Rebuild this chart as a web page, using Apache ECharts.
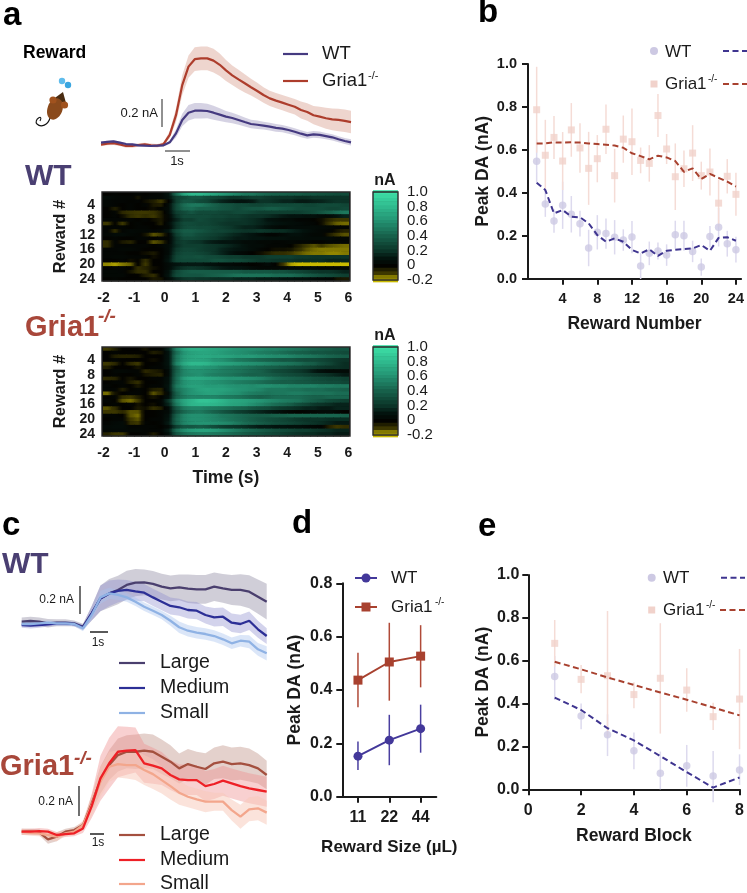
<!DOCTYPE html>
<html><head><meta charset="utf-8">
<style>html,body{margin:0;padding:0;background:#fff}#c{width:747px;height:893px}</style>
<script src="https://cdn.jsdelivr.net/npm/echarts@6/dist/echarts.min.js"></script>
</head><body><div id="c"></div>
<script>
// ---------- panel a traces (nA, one value per 0.25 s from -2.5 s)
const aWtMean=[.024,.03,.033,.024,.014,.012,.005,.002,0,.002,.005,.026,.09,.186,.238,.252,.252,.25,.238,.224,.21,.2,.186,.171,.157,.152,.145,.138,.129,.124,.114,.102,.088,.076,.083,.079,.071,.062,.048,.036,.026];
const aWtSem=[.008,.008,.008,.008,.008,.008,.008,.008,.008,.008,.008,.012,.03,.045,.055,.055,.055,.052,.05,.045,.04,.038,.035,.032,.03,.03,.028,.028,.028,.026,.026,.025,.025,.024,.024,.024,.022,.022,.022,.022,.022];
const aGriaMean=[.01,.017,.02,.012,0,0,.007,.012,.005,.002,.014,.08,.22,.435,.567,.62,.626,.626,.61,.58,.54,.505,.476,.448,.42,.393,.364,.34,.324,.31,.295,.28,.257,.243,.22,.21,.198,.19,.186,.18,.171];
const aGriaSem=[.012,.012,.012,.012,.012,.012,.012,.012,.012,.012,.012,.025,.05,.07,.08,.085,.085,.085,.085,.08,.075,.07,.068,.065,.06,.058,.055,.055,.055,.055,.055,.055,.06,.062,.065,.07,.075,.078,.08,.08,.08];

// ---------- panel a heat maps: 24 rewards x 32 bins of 0.25 s from -2 s
const heatWt=[
[0,.02,0,0,.02,0,.02,.03,.1,.45,.7,.8,.8,.75,.7,.65,.6,.55,.5,.5,.45,.42,.4,.4,.38,.38,.35,.35,.33,.32,.3,.3],
[.05,.03,.02,.02,-.03,.02,.03,.03,.08,.25,.3,.35,.35,.3,.28,.25,.2,.2,.22,.25,.25,.22,.2,.2,.2,.18,.18,.2,.2,.2,.2,.2],
[.03,.02,.02,.01,.02,-.02,-.05,-.1,0,.25,.35,.35,.3,.28,.2,.15,.12,.1,.1,.12,.2,.2,.18,.15,.15,.12,.12,.14,.15,.18,.2,.2],
[.03,.02,0,.02,0,.02,-.04,-.05,.05,.3,.45,.5,.5,.45,.4,.35,.33,.3,.3,.28,.28,.3,.3,.3,.3,.3,.28,.28,.3,.3,.3,.28],
[0,-.05,0,.02,0,0,-.02,.01,.05,.3,.42,.45,.4,.4,.38,.35,.33,.3,.33,.35,.35,.38,.38,.35,.33,.3,.3,.3,.3,.28,.28,.3],
[0,.02,-.07,-.09,-.1,-.1,-.09,-.05,.05,.25,.3,.35,.3,.3,.3,.28,.28,.3,.3,.28,.25,.25,.25,.25,.25,.25,.28,.3,.35,.4,.45,.5],
[0,.02,-.02,-.08,-.1,-.08,-.1,-.05,.03,.2,.3,.3,.3,.3,.28,.28,.25,.25,.22,.2,.2,.18,.15,.12,.1,.1,.08,.08,.05,.05,.1,.15],
[.02,.02,.02,.02,0,.02,-.02,-.04,.02,.15,.25,.25,.3,.28,.25,.25,.22,.22,.2,.18,.15,.1,.08,.05,.05,.02,.02,0,-.02,-.07,-.1,-.1],
[-.1,0,-.1,0,.02,0,0,-.05,.05,.2,.3,.3,.28,.28,.25,.22,.2,.2,.2,.18,.15,.12,.1,.08,.06,.05,.03,.02,-.02,-.1,-.13,-.14],
[.02,.02,.02,0,.02,.02,0,.01,.03,.2,.3,.32,.3,.3,.28,.25,.22,.18,.15,.15,.12,.08,.05,.03,.05,.05,.05,.05,.04,.03,.02,.02],
[.02,-.08,.02,.04,.03,.03,.02,.03,.1,.3,.38,.38,.35,.32,.28,.28,.25,.22,.2,.2,.22,.2,.18,.18,.15,.12,.08,.05,.03,.02,-.03,-.06],
[.03,.05,.05,.03,.02,-.03,-.12,-.1,.02,.25,.35,.35,.3,.28,.25,.22,.18,.15,.12,.1,.05,.02,.02,.05,.08,.08,.05,.03,.03,-.05,-.1,-.12],
[0,.02,0,0,.02,.02,0,.02,.02,.2,.3,.3,.28,.25,.22,.18,.15,.12,.12,.1,.1,.08,.08,.08,.06,.06,.05,.05,.05,.05,.03,.03],
[-.08,.02,-.04,-.06,0,0,-.12,-.1,.02,.2,.25,.22,.2,.15,.12,.1,.1,.08,.05,.05,.03,.03,.02,.02,.03,.02,.02,0,0,.02,.02,.02],
[-.08,.02,.02,.02,.02,.02,0,.02,.05,.18,.25,.25,.25,.22,.2,.18,.15,.12,.08,.05,.05,.02,.02,.02,0,-.05,-.1,-.12,-.1,-.12,-.13,-.14],
[.02,.02,.03,.03,.02,0,0,0,.05,.22,.28,.28,.25,.22,.2,.15,.12,.1,.08,.05,.02,0,-.02,-.02,-.03,-.08,-.12,-.14,-.15,-.15,-.15,-.15],
[.02,.02,.02,0,0,-.02,-.04,0,.05,.25,.3,.3,.28,.25,.2,.15,.1,.05,.03,0,-.02,-.05,-.08,-.08,-.1,-.12,-.14,-.15,-.15,-.16,-.16,-.15],
[.02,.03,.03,.02,.02,.02,-.02,0,.08,.28,.32,.32,.33,.3,.3,.28,.25,.25,.22,.22,.22,.25,.25,.25,.25,.22,.22,.2,.2,.2,.2,.2],
[0,0,.02,-.02,0,-.08,0,0,.1,.28,.3,.3,.3,.3,.33,.33,.3,.3,.28,.25,.22,.22,.2,.2,.2,.18,.18,.18,.18,.15,.15,.15],
[-.16,-.18,-.15,-.13,0,-.1,0,0,.05,.1,.12,.12,.12,.1,.08,.05,.05,.03,.02,0,.02,.05,0,-.1,-.18,-.2,-.2,-.2,-.2,-.2,-.2,-.2],
[0,.02,.02,0,-.08,-.06,-.02,0,.05,.15,.2,.22,.2,.18,.15,.12,.1,.1,.08,.05,.03,.03,.03,.03,.05,.05,.05,.05,.03,.03,.03,.03],
[.03,.03,.02,-.03,-.08,-.08,0,0,.08,.28,.35,.38,.38,.38,.38,.38,.38,.38,.35,.35,.35,.35,.33,.33,.3,.28,.25,.22,.2,.2,.18,.15],
[.03,.03,.03,0,0,-.05,-.08,0,.1,.3,.35,.35,.35,.38,.4,.42,.45,.48,.48,.48,.48,.48,.45,.45,.45,.42,.38,.35,.32,.3,.28,.25],
[0,.02,0,0,0,0,-.04,-.03,.05,.15,.2,.22,.2,.2,.18,.18,.18,.15,.15,.15,.12,.12,.12,.1,.1,.08,.08,.05,.03,.02,-.03,-.04]];
const heatGria=[
[-.1,-.05,0,0,0,-.03,.02,.02,.15,.55,.7,.75,.75,.72,.7,.68,.65,.62,.6,.6,.58,.55,.55,.52,.5,.48,.45,.42,.4,.38,.35,.35],
[0,.02,0,0,0,0,-.05,-.03,.1,.45,.62,.68,.7,.7,.68,.65,.62,.6,.58,.55,.52,.5,.48,.45,.42,.4,.38,.35,.35,.33,.32,.3],
[0,-.05,-.06,-.06,-.05,0,0,0,.1,.5,.65,.7,.72,.72,.7,.7,.68,.65,.65,.65,.62,.6,.58,.58,.55,.52,.5,.48,.45,.42,.4,.38],
[0,.02,0,0,0,0,-.02,0,.1,.5,.65,.7,.7,.68,.62,.6,.55,.5,.48,.45,.42,.4,.38,.35,.35,.32,.3,.3,.28,.25,.22,.2],
[-.1,-.07,0,-.07,-.1,0,0,.02,.1,.55,.72,.8,.8,.78,.72,.7,.68,.65,.62,.6,.58,.55,.52,.5,.48,.45,.4,.38,.32,.28,.22,.18],
[-.05,0,0,0,-.03,0,.02,.02,.08,.4,.6,.65,.65,.62,.6,.55,.52,.5,.48,.45,.42,.4,.38,.35,.32,.3,.28,.25,.22,.2,.2,.18],
[0,.03,.03,.02,.02,-.07,-.05,-.03,.05,.4,.55,.6,.6,.58,.55,.52,.5,.48,.45,.42,.4,.35,.3,.28,.25,.22,.18,.12,.08,.05,.05,.05],
[0,.02,0,0,.02,-.03,-.05,-.06,.05,.42,.55,.58,.6,.55,.52,.5,.48,.45,.42,.4,.4,.38,.35,.32,.3,.28,.25,.22,.2,.18,.15,.12],
[-.07,-.06,0,-.03,0,0,.02,.02,.08,.45,.65,.72,.72,.7,.68,.65,.62,.62,.6,.58,.55,.5,.45,.42,.4,.38,.35,.32,.3,.28,.28,.25],
[0,.02,.02,-.05,-.08,0,0,.02,.08,.45,.6,.65,.65,.62,.6,.58,.55,.52,.5,.48,.45,.42,.4,.38,.38,.36,.35,.33,.32,.3,.3,.28],
[.02,0,.02,0,-.04,0,.02,.02,.1,.5,.62,.68,.68,.65,.65,.65,.62,.6,.6,.58,.6,.6,.58,.58,.55,.55,.55,.55,.52,.52,.5,.5],
[.02,.02,-.05,0,.02,0,-.05,-.06,.1,.45,.55,.62,.68,.7,.68,.68,.65,.62,.6,.58,.55,.5,.5,.5,.48,.48,.45,.45,.45,.42,.42,.4],
[-.14,-.03,0,.02,.02,0,-.12,-.08,.05,.4,.55,.62,.65,.68,.68,.65,.62,.6,.55,.52,.5,.48,.5,.5,.52,.52,.5,.48,.48,.48,.45,.45],
[0,.02,-.08,-.1,-.05,0,-.03,0,.08,.4,.5,.55,.55,.55,.55,.52,.5,.48,.45,.42,.4,.42,.45,.45,.45,.45,.42,.4,.4,.42,.42,.42],
[.02,0,-.12,-.14,-.1,0,0,.02,.2,.55,.7,.78,.85,.85,.82,.78,.72,.7,.68,.65,.62,.58,.55,.52,.5,.48,.42,.38,.35,.3,.28,.25],
[0,.02,0,.02,-.03,0,-.02,.02,.15,.5,.68,.78,.8,.8,.78,.75,.7,.68,.65,.6,.55,.5,.45,.42,.38,.32,.28,.22,.2,.18,.15,.15],
[-.12,-.08,0,0,-.04,-.02,-.08,-.05,.05,.35,.5,.55,.55,.52,.5,.48,.45,.42,.4,.35,.32,.3,.25,.22,.2,.18,.15,.15,.12,.12,.15,.15],
[-.1,-.1,-.07,-.12,-.12,0,0,.02,.05,.3,.42,.48,.5,.45,.4,.35,.3,.25,.22,.18,.15,.12,.1,.05,.02,0,.02,.03,.05,.05,.02,0],
[.02,.02,0,-.12,-.14,0,0,.02,.08,.4,.55,.6,.6,.58,.55,.5,.48,.45,.42,.4,.38,.38,.4,.4,.42,.42,.42,.42,.42,.42,.42,.4],
[0,.02,.02,-.1,-.12,0,.02,.02,.1,.42,.55,.6,.6,.58,.55,.52,.48,.45,.42,.38,.35,.32,.3,.28,.25,.22,.2,.2,.2,.18,.18,.18],
[.02,.04,.05,-.08,-.1,.02,0,.02,.12,.42,.55,.6,.62,.62,.6,.58,.55,.5,.45,.42,.38,.35,.32,.3,.28,.25,.22,.2,.18,.15,.12,.12],
[.04,.05,.05,.02,.02,.02,.02,0,.05,.25,.35,.35,.38,.35,.3,.25,.22,.2,.18,.15,.12,.12,.1,.1,.08,.08,.05,.03,.02,-.06,-.1,-.08],
[.03,.04,.04,.03,.03,.02,.02,.02,.12,.45,.58,.65,.68,.68,.65,.6,.55,.5,.45,.42,.38,.35,.32,.3,.28,.25,.25,.22,.2,.18,.15,.15],
[-.06,-.1,-.1,0,0,.02,-.05,0,.08,.35,.45,.5,.52,.52,.5,.48,.45,.42,.38,.35,.33,.3,.28,.25,.22,.2,.18,.18,.15,.15,.12,.12]];
const heatTimeTicks=[-2,-1,0,1,2,3,4,5,6];
const rewardTicks=[4,8,12,16,20,24];
const colorLevels=[-.2,-.15,-.1,-.05,0,.05,.1,.15,.2,.25,.3,.35,.4,.45,.5,.55,.6,.65,.7,.75,.8,.85,.9,.95,1];
const colorTicks=[1,.8,.6,.4,.2,0,-.2];
const colorTickLabels=['1.0','0.8','0.6','0.4','0.2','0','-0.2'];
// colour stops every 0.1 nA from -0.2 to 1.0
const heatColors=['#c9ba00','#3c3700','#030300','#03130e','#0b3327','#114a39','#17604a','#1d785d','#239070','#29a57f','#2fb98d','#36cc9a','#3ddfa6'];

// ---------- panel b
const bRewards=[1,2,3,4,5,6,7,8,9,10,11,12,13,14,15,16,17,18,19,20,21,22,23,24];
const bWt=[.547,.348,.269,.342,.30,.256,.143,.216,.21,.193,.18,.194,.059,.118,.129,.11,.205,.20,.127,.054,.196,.24,.163,.135];
const bWtErr=[.1,.06,.055,.11,.085,.06,.085,.08,.07,.08,.05,.075,.06,.055,.04,.05,.065,.07,.05,.04,.05,.09,.06,.06];
const bWtFit=[.447,.413,.304,.32,.289,.286,.258,.203,.172,.188,.172,.134,.118,.137,.106,.13,.135,.138,.141,.157,.13,.19,.193,.177];
const bGria=[.787,.575,.658,.548,.693,.609,.514,.559,.696,.48,.65,.638,.551,.537,.76,.604,.475,.512,.585,.48,.497,.352,.477,.393];
const bGriaErr=[.2,.165,.1,.135,.125,.115,.17,.11,.115,.125,.11,.155,.06,.085,.1,.07,.155,.085,.13,.065,.11,.11,.08,.1];
const bGriaFit=[.63,.63,.635,.634,.635,.634,.63,.627,.624,.62,.61,.584,.571,.556,.573,.565,.548,.498,.514,.464,.488,.47,.452,.429];
const bXTicks=[4,8,12,16,20,24];

// ---------- panel c (nA, one value per 0.5 s from -3.5 s)
const cWtLarge=[.023,.028,.023,.012,.016,.016,.012,-.012,.082,.186,.221,.245,.28,.296,.298,.287,.268,.256,.263,.254,.249,.249,.268,.256,.245,.245,.233,.198,.163];
const cWtLargeSem=[.03,.03,.03,.03,.025,.025,.02,.02,.05,.09,.1,.1,.1,.095,.09,.09,.09,.09,.09,.1,.1,.1,.1,.1,.105,.11,.115,.12,.125];
const cWtMedium=[0,-.005,0,.005,.012,.012,.007,-.016,.082,.186,.221,.238,.245,.235,.226,.193,.163,.133,.124,.105,.1,.07,.054,.058,.016,.007,.03,-.03,-.077];
const cWtMediumSem=[.02,.02,.02,.015,.015,.015,.015,.02,.05,.09,.09,.08,.07,.065,.06,.06,.06,.06,.06,.06,.06,.06,.065,.065,.065,.065,.065,.06,.055];
const cWtSmall=[.007,.007,.012,.016,.012,.012,.007,-.023,.07,.193,.221,.21,.193,.163,.128,.1,.07,.03,-.016,-.04,-.054,-.063,-.077,-.1,-.128,-.11,-.117,-.17,-.198];
const cWtSmallSem=[.015,.015,.015,.015,.015,.015,.015,.02,.03,.045,.04,.035,.03,.03,.03,.03,.03,.035,.04,.04,.04,.04,.04,.04,.04,.04,.045,.045,.05];
const cGriaLarge=[0,0,-.004,-.051,-.033,0,.011,.044,.189,.344,.444,.511,.533,.533,.54,.533,.5,.467,.422,.451,.433,.418,.456,.467,.451,.456,.444,.422,.378];
const cGriaLargeSem=[.02,.02,.02,.03,.03,.02,.02,.02,.05,.09,.1,.11,.11,.115,.115,.115,.115,.11,.1,.1,.1,.105,.105,.11,.11,.11,.11,.1,.095];
const cGriaMedium=[0,0,.004,0,-.022,-.016,-.011,.022,.171,.356,.456,.533,.54,.544,.456,.44,.422,.378,.349,.344,.344,.304,.318,.34,.322,.304,.289,.278,.267];
const cGriaMediumSem=[.02,.02,.02,.02,.02,.02,.02,.03,.08,.15,.17,.17,.16,.15,.13,.12,.11,.1,.1,.1,.1,.1,.1,.1,.1,.1,.1,.1,.1];
const cGriaSmall=[0,-.007,-.011,-.022,-.033,-.011,0,.044,.178,.333,.433,.451,.444,.444,.411,.384,.344,.304,.26,.233,.216,.2,.2,.2,.144,.1,.149,.156,.127];
const cGriaSmallSem=[.02,.02,.02,.03,.03,.02,.02,.03,.07,.1,.1,.09,.09,.1,.1,.1,.09,.09,.08,.07,.07,.07,.06,.06,.07,.08,.08,.08,.08];

// ---------- panel d
const dSizes=['11','22','44'];
const dWt=[.152,.212,.255], dWtLow=[.10,.118,.165], dWtHigh=[.207,.307,.345];
const dGria=[.437,.505,.527], dGriaLow=[.335,.36,.41], dGriaHigh=[.54,.652,.643];

// ---------- panel e
const eBlocks=[1,2,3,4,5,6,7,8];
const eWt=[.526,.342,.254,.18,.075,.11,.062,.09];
const eWtLow=[.417,.28,.155,.093,0,.012,-.06,.02];
const eWtHigh=[.622,.40,.35,.265,.176,.207,.179,.163];
const eWtFit=[.428,.37,.285,.228,.155,.08,.008,.055];
const eGria=[.681,.513,.53,.442,.518,.463,.339,.421];
const eGriaLow=[.572,.448,.245,.378,.26,.362,.277,.187];
const eGriaHigh=[.79,.58,.832,.50,.775,.565,.404,.655];
const eGriaFit=[.595,.56,.522,.487,.452,.418,.382,.345];

// ---------- helpers
const FONT="'Liberation Sans', Arial, sans-serif";
const C={wt:'#4a3f72',gria:'#a8473a',wtLine:'#3f3590',griaLine:'#a8412f',wtPale:'#cdc9e3',griaPale:'#f1d2cb',wtErr:'#dddaee',griaErr:'#f5dcd6',ink:'#1a1a1a'};
const grids=[],xAxes=[],yAxes=[],series=[];
function addGrid(g,x,y){grids.push(g);xAxes.push(Object.assign({gridIndex:grids.length-1},x));yAxes.push(Object.assign({gridIndex:grids.length-1},y));return grids.length-1;}
const HIDE={show:false};
function hiddenAxes(g,xr,yr){return addGrid(g,Object.assign({type:'value',min:xr[0],max:xr[1]},HIDE),Object.assign({type:'value',min:yr[0],max:yr[1]},HIDE));}
function band(name,gi,times,mean,sem,color,op){
  const data=times.map((t,i)=>[t,mean[i]-sem[i],mean[i]+sem[i]]);
  series.push({type:'custom',name:name+' SEM',xAxisIndex:gi,yAxisIndex:gi,silent:true,z:2,data,encode:{x:0,y:[1,2]},
    renderItem(p,api){ if(p.dataIndex!==0) return null;
      const up=data.map(d=>api.coord([d[0],d[2]])),dn=data.map(d=>api.coord([d[0],d[1]])).reverse();
      return {type:'polygon',shape:{points:up.concat(dn)},style:{fill:color,opacity:op}};}});
}
function curve(name,gi,times,mean,color,w,z){
  series.push({type:'line',name,xAxisIndex:gi,yAxisIndex:gi,showSymbol:false,symbol:'none',silent:true,z:z||4,lineStyle:{color,width:w||2},data:times.map((t,i)=>[t,mean[i]])});
}
function errBars(name,gi,xs,lo,hi,color,w,z){
  series.push({type:'custom',name:name+' error',xAxisIndex:gi,yAxisIndex:gi,silent:true,z:z||2,encode:{x:0,y:[1,2]},data:xs.map((x,i)=>[x,lo[i],hi[i]]),
    renderItem(p,api){const a=api.coord([api.value(0),api.value(1)]),b=api.coord([api.value(0),api.value(2)]);
      return {type:'line',shape:{x1:a[0],y1:a[1],x2:b[0],y2:b[1]},style:{stroke:color,lineWidth:w||1.5}};}});
}
// colour of a value on the heat scale
function colorOf(v){return echarts.color.lerp(Math.max(0,Math.min(1,(v+.2)/1.2)),heatColors);}
// cell: [x, y, value, left neighbour, right neighbour]; each cell blends softly into its neighbours along the row
function rectSeries(name,gi,data,dx,dy){
  series.push({type:'custom',name,xAxisIndex:gi,yAxisIndex:gi,silent:true,z:2,data,encode:{x:0,y:1},
    renderItem(p,api){const x=api.value(0),y=api.value(1),v=api.value(2),lv=api.value(3),rv=api.value(4);
      const a=api.coord([x,y-dy]),b=api.coord([x+dx,y+dy]);
      const l=Math.floor(Math.min(a[0],b[0])),r=Math.ceil(Math.max(a[0],b[0])),t=Math.min(a[1],b[1]),bt=Math.max(a[1],b[1]);
      const fill=lv===v&&rv===v?colorOf(v):new echarts.graphic.LinearGradient(0,0,1,0,[{offset:0,color:colorOf((lv+v)/2)},{offset:.5,color:colorOf(v)},{offset:1,color:colorOf((v+rv)/2)}]);
      return {type:'rect',shape:{x:l,y:t,width:r-l,height:bt-t+.5},style:{fill}};}});
}
function tickFont(sz){return {color:C.ink,fontFamily:FONT,fontWeight:'bold',fontSize:sz||14};}
const fmt1=v=>v.toFixed(1);
function axisCommon(){return {axisLine:{show:true,onZero:false,lineStyle:{color:C.ink,width:2}},axisTick:{show:true,length:6,lineStyle:{color:C.ink,width:2}},splitLine:{show:false}};}
function nameStyle(sz){return {color:C.ink,fontFamily:FONT,fontWeight:'bold',fontSize:sz||17.5};}

// ---------- panel a traces
const aTimes=aWtMean.map((_,i)=>-2.5+i*.25);
const gA=hiddenAxes({left:101,top:34,width:250,height:126},[-2.5,7.5],[-.1,.8]);
band('Gria1-/- reward',gA,aTimes,aGriaMean,aGriaSem,'#e3b9ae',.6);
band('WT reward',gA,aTimes,aWtMean,aWtSem,'#b9b4d0',.6);
curve('Gria1-/- reward',gA,aTimes,aGriaMean,'#ad3d2c',2.2);
curve('WT reward',gA,aTimes,aWtMean,'#453a80',2.2);

// ---------- panel a heat maps
function heat(name,matrix,top){
  const gi=addGrid({left:102,top,width:248,height:89,show:true,backgroundColor:'#000',borderWidth:0},
   {type:'value',min:-2.05,max:6.05,axisLine:{show:false},axisTick:{show:false},splitLine:{show:false},axisLabel:Object.assign({customValues:heatTimeTicks,margin:10,formatter:v=>String(v)},tickFont())},
   {type:'value',inverse:true,min:.5,max:24.5,axisLine:{show:false},axisTick:{show:false},splitLine:{show:false},axisLabel:Object.assign({customValues:rewardTicks,margin:7,formatter:v=>String(v)},tickFont()),
    name:'Reward #',nameLocation:'middle',nameGap:33,nameTextStyle:nameStyle(16.5)});
  const data=[];matrix.forEach((row,r)=>row.forEach((v,c)=>data.push([-2+c*.25,r+1,v,c?row[c-1]:v,c<row.length-1?row[c+1]:v])));
  rectSeries(name,gi,data,.25,.5);
}
function colorbar(name,top){
  const gi=addGrid({left:373,top,width:25,height:88,show:true,backgroundColor:'#000',borderWidth:0},
   Object.assign({type:'value',min:0,max:1},HIDE),
   {type:'value',position:'right',min:-.2,max:1,interval:.2,axisLine:{show:false},splitLine:{show:false},axisTick:{show:true,length:3,lineStyle:{color:'#222',width:1.5}},axisLabel:{show:false}});
  rectSeries(name,gi,colorLevels.map(l=>[0,l,l,l,l]),1,.025);
}
heat('WT reward heat map',heatWt,192);
colorbar('WT colour scale',192);
heat('Gria1-/- reward heat map',heatGria,347);
colorbar('Gria1-/- colour scale',347);
xAxes[xAxes.length-2].name='Time (s)';
xAxes[xAxes.length-2].nameLocation='middle';
xAxes[xAxes.length-2].nameGap=33;
xAxes[xAxes.length-2].nameTextStyle=nameStyle(17.5);

// ---------- panel b
const gB=addGrid({left:528,top:64,width:216,height:214.7},
  Object.assign({type:'value',min:0,max:24.6,name:'Reward Number',nameLocation:'middle',nameGap:36,nameTextStyle:nameStyle(),axisLabel:Object.assign({customValues:bXTicks,margin:13,formatter:v=>String(v)},tickFont(14.5))},axisCommon(),{axisTick:{show:true,length:6,customValues:bXTicks,lineStyle:{color:C.ink,width:2}}}),
  Object.assign({type:'value',min:0,max:1,interval:.2,name:'Peak DA (nA)',nameLocation:'middle',nameGap:36,nameTextStyle:nameStyle(),axisLabel:Object.assign({formatter:fmt1,margin:11},tickFont(14.5))},axisCommon()));
errBars('WT',gB,bRewards,bWt.map((v,i)=>v-bWtErr[i]),bWt.map((v,i)=>v+bWtErr[i]),C.wtErr);
errBars('Gria1-/-',gB,bRewards,bGria.map((v,i)=>v-bGriaErr[i]),bGria.map((v,i)=>v+bGriaErr[i]),C.griaErr);
function pts(name,gi,xs,ys,sym,sz,color){series.push({type:'scatter',name,xAxisIndex:gi,yAxisIndex:gi,symbol:sym,symbolSize:sz,silent:true,z:3,itemStyle:{color},data:xs.map((x,i)=>[x,ys[i]])});}
function dash(name,gi,xs,ys,color){series.push({type:'line',name,xAxisIndex:gi,yAxisIndex:gi,symbol:'none',silent:true,z:4,lineStyle:{color,width:2,type:[6,3.5]},data:xs.map((x,i)=>[x,ys[i]])});}
pts('WT',gB,bRewards,bWt,'circle',7.5,C.wtPale);
pts('Gria1-/-',gB,bRewards,bGria,'rect',7,C.griaPale);
dash('WT fit',gB,bRewards,bWtFit,'#3f3590');
dash('Gria1-/- fit',gB,bRewards,bGriaFit,'#a8412f');

// ---------- panel c
const cTimes=cWtLarge.map((_,i)=>-3.5+i*.5);
const gC1=hiddenAxes({left:21.7,top:539.2,width:245,height:128.7},[-3.5,10.5],[-.3,.6]);
band('WT Large',gC1,cTimes,cWtLarge,cWtLargeSem,'#8f8aa3',.42);
band('WT Medium',gC1,cTimes,cWtMedium,cWtMediumSem,'#8c8ccc',.38);
band('WT Small',gC1,cTimes,cWtSmall,cWtSmallSem,'#a9c3ee',.42);
curve('WT Large',gC1,cTimes,cWtLarge,'#4a3f6e',2.3);
curve('WT Medium',gC1,cTimes,cWtMedium,'#2c2f96',2.3);
curve('WT Small',gC1,cTimes,cWtSmall,'#8fb2e4',2.3);
const gC2=hiddenAxes({left:21.7,top:711.7,width:245,height:150},[-3.5,10.5],[-.2,.8]);
band('Gria1-/- Large',gC2,cTimes,cGriaLarge,cGriaLargeSem,'#c49a8e',.45);
band('Gria1-/- Medium',gC2,cTimes,cGriaMedium,cGriaMediumSem,'#ee8f8f',.42);
band('Gria1-/- Small',gC2,cTimes,cGriaSmall,cGriaSmallSem,'#f8c8b8',.5);
curve('Gria1-/- Large',gC2,cTimes,cGriaLarge,'#a4503f',2.3);
curve('Gria1-/- Small',gC2,cTimes,cGriaSmall,'#f3a68c',2.3);
curve('Gria1-/- Medium',gC2,cTimes,cGriaMedium,'#ee2026',2.3);

// ---------- panel d
const gD=addGrid({left:342.3,top:583.3,width:94,height:213.4},
  Object.assign({type:'category',data:dSizes,name:'Reward Size (\u00b5L)',nameLocation:'middle',nameGap:42,nameTextStyle:nameStyle(17),axisLabel:Object.assign({margin:13,interval:0},tickFont(16))},axisCommon(),{axisTick:{show:true,length:6,alignWithLabel:true,lineStyle:{color:C.ink,width:2}}}),
  Object.assign({type:'value',min:0,max:.8,interval:.2,name:'Peak DA (nA)',nameLocation:'middle',nameGap:38,nameTextStyle:nameStyle(),axisLabel:Object.assign({formatter:fmt1,margin:10},tickFont(16))},axisCommon()));
errBars('WT',gD,[0,1,2],dWtLow,dWtHigh,'#4a3fa0',1.5);
errBars('Gria1-/-',gD,[0,1,2],dGriaLow,dGriaHigh,'#b04a38',1.5);
function lineMark(name,gi,ys,sym,color){series.push({type:'line',name,xAxisIndex:gi,yAxisIndex:gi,symbol:sym,symbolSize:9,silent:true,z:4,lineStyle:{color,width:2},itemStyle:{color},data:ys});}
lineMark('WT',gD,dWt,'circle','#43389a');
lineMark('Gria1-/-',gD,dGria,'rect','#a8412f');

// ---------- panel e
const gE=addGrid({left:528.3,top:575,width:214.4,height:214.3},
  Object.assign({type:'value',min:0,max:8,interval:2,name:'Reward Block',nameLocation:'middle',nameGap:38,nameTextStyle:nameStyle(),axisLabel:Object.assign({margin:13},tickFont(16))},axisCommon()),
  Object.assign({type:'value',min:0,max:1,interval:.2,name:'Peak DA (nA)',nameLocation:'middle',nameGap:36,nameTextStyle:nameStyle(),axisLabel:Object.assign({formatter:fmt1,margin:9},tickFont(16))},axisCommon()));
errBars('WT',gE,eBlocks,eWtLow,eWtHigh,C.wtErr);
errBars('Gria1-/-',gE,eBlocks,eGriaLow,eGriaHigh,C.griaErr);
pts('WT',gE,eBlocks,eWt,'circle',7.5,C.wtPale);
pts('Gria1-/-',gE,eBlocks,eGria,'rect',7,C.griaPale);
dash('WT fit',gE,eBlocks,eWtFit,'#3f3590');
dash('Gria1-/- fit',gE,eBlocks,eGriaFit,'#a8412f');

// ---------- text, keys and drawn annotations
const g=[];
function T(x,y,text,size,o){o=o||{};g.push({type:'text',silent:true,z:20,rotation:o.rot||0,x:x,y:y,style:{x:0,y:0,text,fill:o.color||C.ink,font:`${o.italic?'italic ':''}${o.bold?'bold ':''}${size}px ${FONT}`,align:o.align||'left',verticalAlign:'middle'}});}
function L(x1,y1,x2,y2,color,w,d){g.push({type:'line',silent:true,z:20,shape:{x1,y1,x2,y2},style:{stroke:color,lineWidth:w,lineDash:d||null}});}
function dot(x,y,r,color){g.push({type:'circle',silent:true,z:20,shape:{cx:x,cy:y,r},style:{fill:color}});}
function sq(x,y,s,color){g.push({type:'rect',silent:true,z:20,shape:{x:x-s/2,y:y-s/2,width:s,height:s},style:{fill:color}});}
function box(x,y,w,h){g.push({type:'rect',silent:true,z:20,shape:{x,y,width:w,height:h},style:{fill:'none',stroke:'#2a2a2a',lineWidth:1.4}});}
function griaName(x,y,size,color,bold,supDx,supDy,supSize){T(x,y,'Gria1',size,{color,bold});T(x+supDx,y+supDy,'-/-',supSize,{color,italic:bold,bold});}
function tail(x1,y1,x2,y2,cx1,cy1,cx2,cy2){g.push({type:'bezierCurve',silent:true,z:19,shape:{x1,y1,x2,y2,cpx1:cx1,cpy1:cy1,cpx2:cx2,cpy2:cy2},style:{fill:'none',stroke:'#111',lineWidth:1.1}});}
box(102,192,248,89);box(102,347,248,89);box(373,192,25,88);box(373,347,25,88);
[192,347].forEach(top=>colorTicks.forEach((v,i)=>T(407,top+(1-v)/1.2*88,colorTickLabels[i],15)));
T(3,16,'a',33,{bold:true,color:'#000'});T(478,13,'b',33,{bold:true,color:'#000'});
T(2,526,'c',33,{bold:true,color:'#000'});T(292,524,'d',33,{bold:true,color:'#000'});T(478,527,'e',33,{bold:true,color:'#000'});
T(23,53,'Reward',17.5,{bold:true,color:'#000'});
// mouse drawing
tail(50,118,37,124,48,125,41,128);tail(37,124,40,121,33,120,44,113);
g.push({type:'polygon',silent:true,z:19,shape:{points:[[63,92],[66,103],[52,100]]},style:{fill:'#4a2c12'}});
g.push({type:'ellipse',silent:true,z:19,shape:{cx:55,cy:109,rx:7.5,ry:11},rotation:-.35,originX:55,originY:109,style:{fill:'#8a4a1c'}});
dot(53,100,3.6,'#a0521e');dot(64.5,105,3.6,'#a0521e');
dot(62,81,3.2,'#5fbcec');dot(68,85,3.2,'#3aa6e0');
// a legend & scale
L(283,54,308,54,'#453a80',2.2);T(322,54,'WT',18.5);L(283,81,308,81,'#ad3d2c',2.2);griaName(322,81,18.5,C.ink,false,46,-5,11);
L(162,99,162,127,'#222',1);T(158,113,'0.2 nA',13,{align:'right'});L(165,151,190,151,'#222',1);T(177,161,'1s',13,{align:'center'});
// a titles
T(25,177,'WT',30,{bold:true,color:C.wt});griaName(25,328,29,C.gria,true,73,-11,19);
T(385,181,'nA',16,{bold:true,align:'center'});T(385,336,'nA',16,{bold:true,align:'center'});
// b legend
dot(654,51,4,C.wtPale);T(665,52,'WT',17);L(723,51,747,51,'#3f3590',2,[6,3.5]);
sq(654,84,7,C.griaPale);griaName(665,84,17,C.ink,false,43,-5,10);L(723,84,747,84,'#a8412f',2,[6,3.5]);
// c titles, scale, legend
T(2,565,'WT',30,{bold:true,color:C.wt});griaName(0,767,29,C.gria,true,74,-8,19);
L(80,586,80,614,'#222',1.3);T(74,600,'0.2 nA',12,{align:'right'});L(90,632,108,632,'#222',1.5);T(98,643,'1s',12,{align:'center'});
L(79,786,79,816,'#222',1.3);T(73,802,'0.2 nA',12,{align:'right'});L(90,834,104,834,'#222',1.5);T(98,843,'1s',12,{align:'center'});
[[663,'Large','#4a3f6e'],[688,'Medium','#2c2f96'],[713,'Small','#8fb2e4'],[835,'Large','#a4503f'],[860,'Medium','#ee2026'],[884,'Small','#f3a68c']].forEach(r=>{L(119,r[0],145,r[0],r[2],2.2);T(160,r[0],r[1],19.5);});
// d legend
L(355,578,377,578,'#43389a',2);dot(366,578,4.5,'#43389a');T(391,578,'WT',17);
L(355,607,377,607,'#a8412f',2);sq(366,607,9,'#a8412f');griaName(391,607,17,C.ink,false,44,-5,10);
// e legend
dot(651.7,577.7,4,C.wtPale);T(663,578,'WT',17);L(721,577.7,745,577.7,'#3f3590',2,[6,3.5]);
sq(651.7,610,7,C.griaPale);griaName(663,610,17,C.ink,false,43,-5,10);L(720,610,745,610,'#a8412f',2,[6,3.5]);

const chart=echarts.init(document.getElementById('c'),null,{renderer:'canvas',width:747,height:893});
chart.setOption({animation:false,backgroundColor:'#fff',tooltip:{show:false},
  grid:grids,xAxis:xAxes,yAxis:yAxes,series,graphic:{elements:g}});
</script></body></html>
